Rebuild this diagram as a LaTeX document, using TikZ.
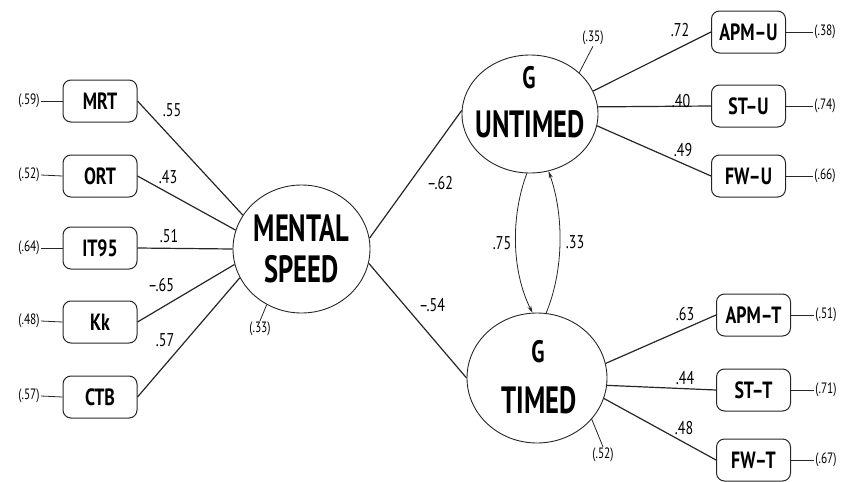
\documentclass[tikz,border=0pt]{standalone}
\usepackage{fontspec}
\setmainfont{PT Sans}
\newfontfamily\nfont[FakeStretch=0.76]{PT Sans}
\newfontfamily\lfont[FakeStretch=0.7]{PT Sans}
\usetikzlibrary{arrows.meta,shapes.geometric}
\begin{document}
\begin{tikzpicture}[x=1pt,y=-1pt,
  obs/.style={draw=black!85,line width=1pt,rounded corners=8pt,minimum width=74pt,minimum height=42pt,inner sep=0pt,font=\nfont\bfseries\fontsize{23.5}{23.5}\selectfont},
  lat/.style={draw=black!85,ellipse,line width=0.9pt,inner sep=0pt},
  lattxt/.style={font=\lfont\bfseries\fontsize{38}{41}\selectfont,inner sep=0pt,align=center},
  gtxt/.style={font=\lfont\bfseries\fontsize{31}{31}\selectfont,inner sep=0pt},
  coef/.style={font=\nfont\fontsize{18.5}{18.5}\selectfont,inner sep=0pt},
  err/.style={font=\nfont\fontsize{15}{15}\selectfont,inner sep=1pt},
  ln/.style={draw=black!85,line width=1.2pt},
  thinln/.style={draw=black!85,line width=0.8pt},
  cov/.style={draw=black!85,line width=0.8pt,-{Stealth[length=7pt,width=4pt]}}
]
\useasboundingbox (0,0) rectangle (844,482);

% observed left
\node[obs] (mrt) at (100,101) {MRT};
\node[obs] (ort) at (100,176) {ORT};
\node[obs] (it) at (100,248) {IT95};
\node[obs] (kk) at (100,322) {Kk};
\node[obs] (ctb) at (100,397) {CTB};

\node[err] (e59) at (29,101) {(.59)};
\node[err] (e52l) at (29,175) {(.52)};
\node[err] (e64) at (29,248) {(.64)};
\node[err] (e48) at (29,321) {(.48)};
\node[err] (e57) at (29,396) {(.57)};

\draw[thinln] (e59.east) -- (mrt.west);
\draw[thinln] (e52l.east) -- (ort.west);
\draw[thinln] (e64.east) -- (it.west);
\draw[thinln] (e48.east) -- (kk.west);
\draw[thinln] (e57.east) -- (ctb.west);

% latent
\node[lat,minimum width=137pt,minimum height=128pt] (ms) at (301.5,249) {};
\node[lattxt] (mst) at (301.5,249) {MENTAL\\SPEED};
\node[lat,minimum width=136pt,minimum height=118pt] (un) at (530,114) {};
\node[gtxt] (ung) at (529,78) {G};
\node[lattxt] (unt) at (530,124) {UNTIMED};
\node[lat,minimum width=140pt,minimum height=130pt] (ti) at (537,378) {};
\node[gtxt] (tig) at (538,352) {G};
\node[lattxt] (tit) at (539,400) {TIMED};

% observed right
\node[obs] (apmu) at (748.5,32) {APM–U};
\node[obs] (stu) at (748.5,106) {ST–U};
\node[obs] (fwu) at (748.5,176) {FW–U};
\node[obs] (apmt) at (753.5,315) {APM–T};
\node[obs] (stt) at (753.5,390) {ST–T};
\node[obs] (fwt) at (753.5,460) {FW–T};

\node[err] (e38) at (825,32) {(.38)};
\node[err] (e74) at (825,106) {(.74)};
\node[err] (e66) at (825,176) {(.66)};
\node[err] (e51) at (826,315) {(.51)};
\node[err] (e71) at (826,390) {(.71)};
\node[err] (e67) at (826,460) {(.67)};

\draw[thinln] (apmu.east) -- (e38.west);
\draw[thinln] (stu.east) -- (e74.west);
\draw[thinln] (fwu.east) -- (e66.west);
\draw[thinln] (apmt.east) -- (e51.west);
\draw[thinln] (stt.east) -- (e71.west);
\draw[thinln] (fwt.east) -- (e67.west);

% left loadings
\draw[ln] (mrt.east) -- (ms.150);
\draw[ln] (ort.east) -- (ms.164);
\draw[ln] (it.east) -- (ms.west);
\draw[ln] (kk.east) -- (ms.193);
\draw[ln] (ctb.east) -- (ms.205);

\node[coef] (c55) at (172,110) {.55};
\node[coef] (c43) at (168,177) {.43};
\node[coef] (c51) at (169,236) {.51};
\node[coef] (c65) at (161,285) {–.65};
\node[coef] (c57) at (165,340) {.57};

% structural paths
\draw[ln] (ms.9) -- (un.177);
\draw[ln] (ms.348) -- (ti.west);
\node[coef] (c62) at (440,183) {–.62};
\node[coef] (c54) at (432,305) {–.54};

% right loadings
\draw[ln] (un.20) -- (apmu.west);
\draw[ln] (un.6) -- (stu.west);
\draw[ln] (un.-10) -- (fwu.west);
\draw[ln] (ti.12) -- (apmt.west);
\draw[ln] (ti.-6) -- (stt.west);
\draw[ln] (ti.-17) -- (fwt.west);

\node[coef] (c72) at (680,30) {.72};
\node[coef] (c40) at (681,101) {.40};
\node[coef] (c49) at (683,150) {.49};
\node[coef] (c63) at (685,314) {.63};
\node[coef] (c44) at (685,378) {.44};
\node[coef] (c48) at (684,428) {.48};

% latent residuals
\node[err] (e33) at (260,329) {(.33)};
\node[err] (e35) at (593,38) {(.35)};
\node[err] (e52) at (603,455) {(.52)};
\draw[thinln] (ms.238) -- (e33.north);
\draw[thinln] (un.40) -- (e35.south);
\draw[thinln] (ti.323) -- (e52.north);

% reciprocal paths
\draw[cov] (un.267) .. controls (511,215) and (511,270) .. (ti.94);
\draw[cov] (ti.82) .. controls (564,270) and (564,215) .. (un.288);
\node[coef] (c75) at (502,243) {.75};
\node[coef] (c33) at (575,242) {.33};
\end{tikzpicture}
\end{document}
